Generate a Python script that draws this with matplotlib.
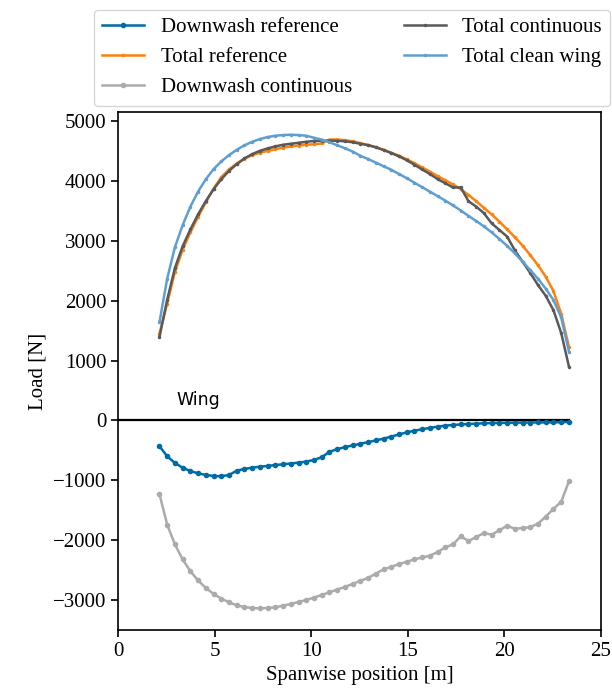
'''
Spanwise load distribution: reference vs continuous downwash model.
'''

import numpy as np
import matplotlib
matplotlib.use('Agg')
import matplotlib.pyplot as plt

plt.rcParams['font.family'] = ['Liberation Serif', 'DejaVu Serif']
plt.rcParams['font.size'] = 15
plt.rcParams['mathtext.fontset'] = 'stix'

# spanwise stations [m]
span = np.round(2.14 + 0.4 * np.arange(54), 2)

# loads [N]
downwash_ref = [
  -430, -600, -710, -790, -845, -885, -910, -928, -932, -912,
  -840, -810, -790, -772, -760, -745, -733, -720, -705, -688,
  -660, -615, -525, -480, -447, -418, -390, -363, -335, -305,
  -270, -235, -200, -172, -148, -125, -104, -88, -76, -68,
  -60, -54, -48, -44, -41, -39, -37, -36, -35, -34,
  -33, -32, -30, -25,
]
total_ref = [
  1450, 1950, 2480, 2850, 3140, 3400, 3640, 3870, 4060, 4190,
  4290, 4370, 4430, 4470, 4500, 4530, 4555, 4575, 4590, 4605,
  4610, 4625, 4690, 4690, 4680, 4660, 4630, 4600, 4565, 4520,
  4470, 4420, 4360, 4295, 4225, 4155, 4080, 4010, 3940, 3860,
  3765, 3660, 3550, 3440, 3320, 3190, 3060, 2920, 2760, 2590,
  2400, 2160, 1780, 1230,
]
downwash_cont = [
  -1230, -1740, -2070, -2320, -2517, -2673, -2797, -2897, -2975, -3037,
  -3088, -3116, -3133, -3138, -3133, -3121, -3093, -3066, -3032, -2998,
  -2959, -2915, -2870, -2825, -2781, -2730, -2680, -2630, -2560, -2489,
  -2445, -2400, -2361, -2321, -2288, -2260, -2198, -2120, -2070, -1935,
  -2014, -1947, -1880, -1908, -1835, -1757, -1812, -1795, -1784, -1723,
  -1606, -1477, -1359, -1018,
]
total_cont = [
  1390, 2014, 2545, 2908, 3188, 3440, 3663, 3859, 4027, 4166,
  4279, 4374, 4447, 4502, 4542, 4576, 4603, 4620, 4636, 4653,
  4665, 4670, 4672, 4670, 4660, 4645, 4620, 4595, 4560, 4515,
  4465, 4410, 4345, 4270, 4190, 4115, 4030, 3960, 3890, 3890,
  3660, 3570, 3460, 3290, 3180, 3070, 2840, 2650, 2460, 2260,
  2080, 1840, 1460, 900,
]
total_clean = [
  1639, 2366, 2891, 3260, 3569, 3821, 4027, 4195, 4324, 4430,
  4519, 4593, 4653, 4698, 4732, 4754, 4765, 4771, 4765, 4754,
  4720, 4690, 4645, 4595, 4545, 4490, 4420, 4365, 4305, 4245,
  4185, 4115, 4045, 3970, 3895, 3820, 3745, 3670, 3590, 3505,
  3415, 3330, 3240, 3140, 3030, 2915, 2790, 2650, 2510, 2365,
  2200, 2010, 1720, 1150,
]

fig = plt.figure(figsize=(6.12, 7.0), dpi=100)
ax = fig.add_axes([0.193, 0.1, 0.789, 0.74])

ax.plot([0, span[-1]], [0, 0], color='k', lw=1.6, zorder=1)
ax.plot(span, downwash_ref, '.-', color='#006BA4', lw=1.8, ms=6,
        label='Downwash reference')
ax.plot(span, total_ref, '.-', color='#FF800E', lw=1.8, ms=3,
        label='Total reference')
ax.plot(span, downwash_cont, '.-', color='#ABABAB', lw=1.8, ms=6,
        label='Downwash continuous')
ax.plot(span, total_cont, '.-', color='#595959', lw=1.8, ms=3,
        label='Total continuous')
ax.plot(span, total_clean, '.-', color='#5F9ED1', lw=1.8, ms=3,
        label='Total clean wing')

ax.text(3, 250, 'Wing', family='DejaVu Sans', fontsize=12.5)

ax.set_xlim(0, 25)
ax.set_ylim(-3500, 5150)
ax.set_xticks([0, 5, 10, 15, 20, 25])
ax.set_yticks([-3000, -2000, -1000, 0, 1000, 2000, 3000, 4000, 5000])
ax.set_xlabel('Spanwise position [m]')
ax.set_ylabel('Load [N]')
for s in ax.spines.values():
  s.set_linewidth(1.2)
ax.tick_params(width=1.2, length=5)

ax.legend(loc='lower center', bbox_to_anchor=(0.485, 1.0), ncol=2,
          fontsize=15, handlelength=2.0, columnspacing=2.5,
          borderaxespad=0.3)

fig.savefig('out.png', dpi=100)
